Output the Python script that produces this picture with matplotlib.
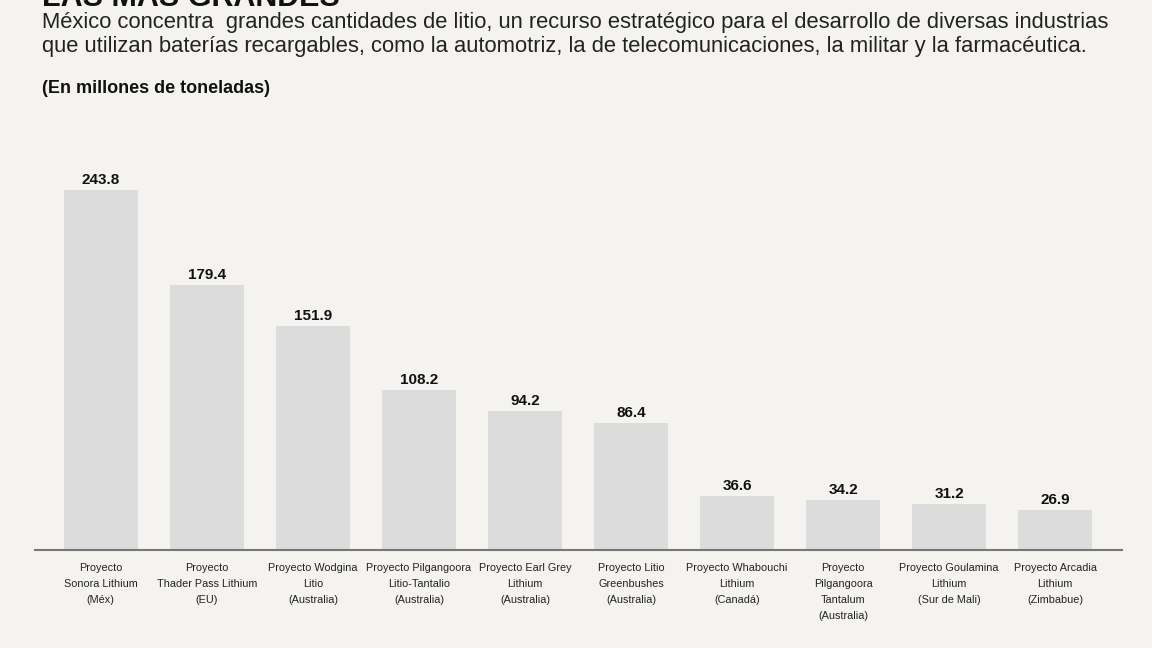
import matplotlib.pyplot as plt

plt.rcParams["font.family"] = ["Liberation Sans", "DejaVu Sans"]

# datos
proyectos = [
    "Proyecto\nSonora Lithium\n(Méx)",
    "Proyecto\nThader Pass Lithium\n(EU)",
    "Proyecto Wodgina\nLitio\n(Australia)",
    "Proyecto Pilgangoora\nLitio-Tantalio\n(Australia)",
    "Proyecto Earl Grey\nLithium\n(Australia)",
    "Proyecto Litio\nGreenbushes\n(Australia)",
    "Proyecto Whabouchi\nLithium\n(Canadá)",
    "Proyecto\nPilgangoora\nTantalum\n(Australia)",
    "Proyecto Goulamina\nLithium\n(Sur de Mali)",
    "Proyecto Arcadia\nLithium\n(Zimbabue)",
]
valores = [243.8, 179.4, 151.9, 108.2, 94.2, 86.4, 36.6, 34.2, 31.2, 26.9]

fondo = "#f4f3f0"
fig = plt.figure(figsize=(11.52, 6.48), dpi=100, facecolor=fondo)
ax = fig.add_axes([0.0304, 0.151, 0.9436, 0.57])
ax.set_facecolor(fondo)

x = range(len(valores))
ax.bar(x, valores, width=0.70, color="#dcdcdc", zorder=2)

for i, v in zip(x, valores):
    ax.text(i, v + 2, f"{v:.1f}", ha="center", va="bottom",
            fontsize=11, fontweight="bold", color="#111111")

for i, etiqueta in zip(x, proyectos):
    ax.text(i, -9, etiqueta, ha="center", va="top", fontsize=7.8,
            color="#222222", linespacing=1.75)

ax.set_xlim(-0.62, 9.63)
ax.set_ylim(0, 250)
ax.set_xticks([])
ax.set_yticks([])
for lado in ["top", "right", "left"]:
    ax.spines[lado].set_visible(False)
ax.spines["bottom"].set_color("#777777")
ax.spines["bottom"].set_linewidth(1.5)

# textos de cabecera (el título aparece recortado arriba)
fig.text(0.0365, 1 - 6 / 648, "LAS MÁS GRANDES", fontsize=22, fontweight="bold",
         color="#111111", va="baseline")
fig.text(0.0365, 1 - 28 / 648,
         "México concentra  grandes cantidades de litio, un recurso estratégico para el desarrollo de diversas industrias",
         fontsize=15.8, color="#222222", va="baseline")
fig.text(0.0365, 1 - 52 / 648,
         "que utilizan baterías recargables, como la automotriz, la de telecomunicaciones, la militar y la farmacéutica.",
         fontsize=15.8, color="#222222", va="baseline")
fig.text(0.0365, 1 - 93 / 648, "(En millones de toneladas)", fontsize=13,
         fontweight="bold", color="#111111", va="baseline")

fig.savefig("out.png", dpi=100, facecolor=fondo)
